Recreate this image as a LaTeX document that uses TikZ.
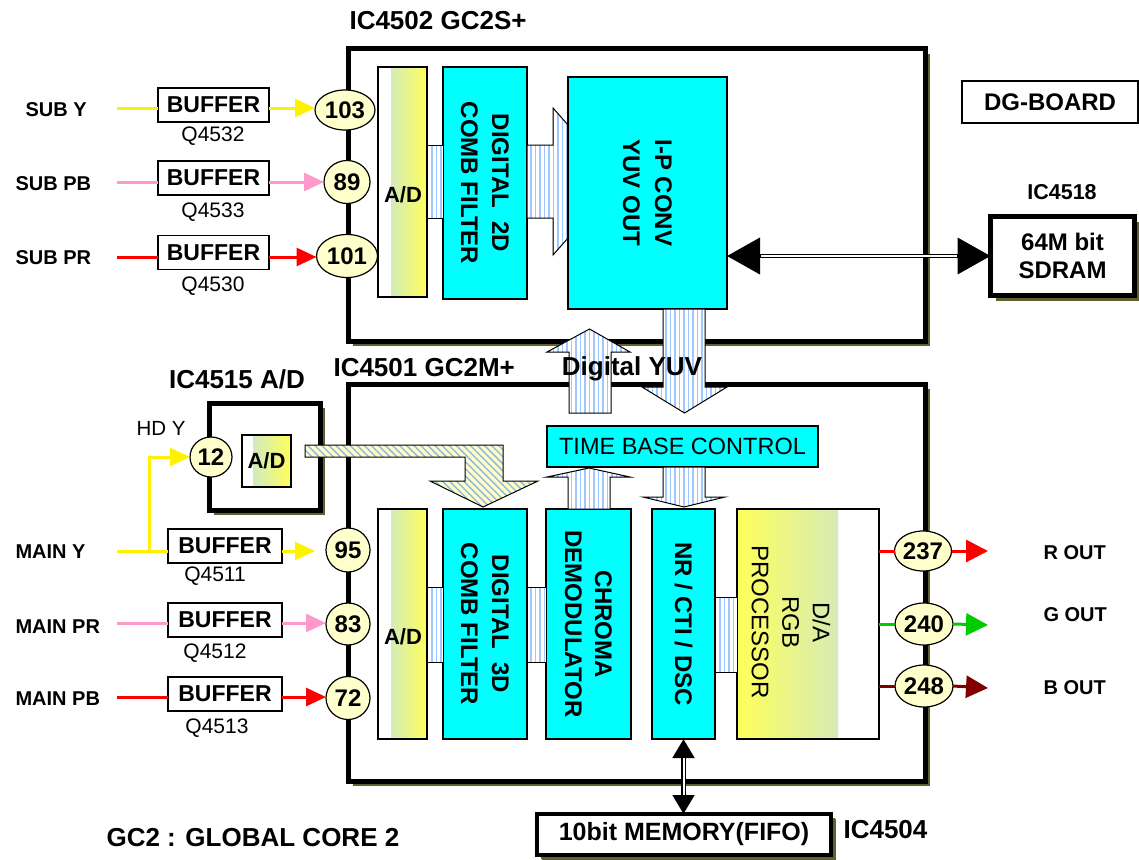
\documentclass[tikz,border=0pt]{standalone}
\usepackage{fontspec}
\setmainfont{Liberation Sans}
\usetikzlibrary{arrows.meta,patterns.meta,shadows,shapes.geometric}
\definecolor{cyanbox}{RGB}{0,255,255}
\definecolor{pinfill}{RGB}{255,255,204}
\definecolor{hatchblue}{RGB}{160,200,255}
\definecolor{shadowol}{RGB}{96,96,48}
\definecolor{adteal}{RGB}{196,228,218}
\definecolor{adyellow}{RGB}{255,255,90}
\definecolor{pinkline}{RGB}{255,153,204}
\definecolor{greenline}{RGB}{0,204,0}
\definecolor{darkredline}{RGB}{128,0,0}
\definecolor{lyellow}{RGB}{255,255,200}
\definecolor{diagblue}{RGB}{150,185,225}
\newcommand\fz[2]{\fontsize{#1}{#2}\selectfont}
\tikzset{
  chip/.style={draw, line width=5pt, fill=white, inner sep=0pt, outer sep=0pt,
    drop shadow={shadow xshift=5pt, shadow yshift=-5pt, fill=shadowol, opacity=1}},
  thinbox/.style={draw, line width=1.3pt, inner sep=0pt, outer sep=0pt},
  cyanblk/.style={thinbox, fill=cyanbox, font=\fz{24}{31}\bfseries, align=center, rotate=-90},
  adblk/.style={thinbox, fill=white,
    path picture={\shade[left color=adteal, right color=adyellow]
      ([xshift=13pt]path picture bounding box.south west) rectangle (path picture bounding box.north east);}},
  buffer/.style={thinbox, fill=white, minimum width=111pt, minimum height=34pt, font=\fz{23}{23}\bfseries},
  pin/.style={ellipse, draw, line width=1.2pt, fill=pinfill, inner sep=0pt, outer sep=0pt, font=\fz{24}{24}\bfseries},
  hatch/.style={draw, line width=1pt, preaction={fill=white},
    pattern={Lines[angle=90,distance=4.5pt,line width=1.5pt]}, pattern color=hatchblue},
  diaghatch/.style={draw, line width=1pt, preaction={fill=lyellow},
    pattern={Lines[angle=-45,distance=5pt,line width=1.5pt]}, pattern color=diagblue},
  arr/.style={-{Triangle[length=20pt,width=18pt]}},
  oarr/.style={-{Triangle[length=22pt,width=22pt]}},
  sig/.style={line width=3pt},
  lbl/.style={font=\fz{20}{20}\bfseries, anchor=west},
  qlbl/.style={font=\fz{21}{21}},
  title/.style={font=\fz{26}{26}\bfseries},
}
\begin{document}
\begin{tikzpicture}[x=1pt,y=-1pt]
\useasboundingbox (0,0) rectangle (1139,859);

% ---- chips and outer boxes
\node[chip, minimum width=577pt, minimum height=292pt] (gc2s) at (636.5,195) {};
\node[chip, minimum width=577pt, minimum height=397pt] (gc2m) at (636.5,582.5) {};
\node[chip, minimum width=111pt, minimum height=107pt] (ic4515) at (264.5,456.5) {};
\node[chip, line width=4.5pt, minimum width=144pt, minimum height=79pt,
      font=\fz{24}{28}\bfseries, align=center] (sdram) at (1062.5,256) {64M bit\\SDRAM};
\node[chip, line width=4pt, minimum width=294pt, minimum height=41pt,
      drop shadow={shadow xshift=4pt, shadow yshift=-4pt, fill=shadowol, opacity=1},
      font=\fz{25}{25}\bfseries] (mem) at (684,834.5) {10bit MEMORY(FIFO)};
\node[thinbox, fill=white, minimum width=176pt, minimum height=42pt, font=\fz{24}{24}\bfseries] (dg) at (1050,102) {DG-BOARD};

% ---- titles
\node[title, anchor=west] (t4502) at (346,21) {IC4502 GC2S+};
\node[title, anchor=west] (t4501) at (330,368) {IC4501 GC2M+};
\node[title] (t4515) at (237,379) {IC4515 A/D};
\node[font=\fz{21.5}{21.5}\bfseries] (t4518) at (1062,192) {IC4518};
\node[title, anchor=west] (t4504) at (840,830) {IC4504};
\node[title, anchor=west] (tgc2) at (103,838) {GC2 : GLOBAL CORE 2};
\node[font=\fz{20.5}{20.5}] (hdy) at (161,428) {HD Y};

% ---- top chip internals
\node[adblk, minimum width=49pt, minimum height=230pt] (adt) at (402.5,182) {};
\node[font=\fz{22}{22}\bfseries] (adttxt) at (403,195) {A/D};
\node[cyanblk, minimum width=232pt, minimum height=84pt] (comb2) at (485,183) {DIGITAL\ \ 2D\\COMB FILTER};
\draw[hatch] (427,145) rectangle (443,218);
\draw[hatch] (527,145) -- (553,145) -- (553,108) -- (618,181.5) -- (553,255) -- (553,218) -- (527,218) -- cycle;
\node[cyanblk, minimum width=232pt, minimum height=159pt, font=\fz{24}{32}\bfseries] (ipconv) at (647.5,193) {I-P CONV\\YUV OUT};

% ---- IC4515 internals
\node[adblk, minimum width=49pt, minimum height=52pt, font=\fz{22}{22}\bfseries,
      path picture={\shade[left color=adteal, right color=adyellow]
      ([xshift=11pt]path picture bounding box.south west) rectangle (path picture bounding box.north east);}] (adhd) at (266.5,461) {A/D};

% ---- bottom chip internals
\node[thinbox, fill=cyanbox, minimum width=271pt, minimum height=41pt, font=\fz{23.5}{23.5}] (tbc) at (682.5,446.5) {TIME BASE CONTROL};
\node[adblk, minimum width=49pt, minimum height=230pt] (adb) at (402.5,624) {};
\node[font=\fz{22}{22}\bfseries] (adbtxt) at (403,637) {A/D};
\node[cyanblk, minimum width=230pt, minimum height=84pt] (comb3) at (485,624) {DIGITAL\ \ 3D\\COMB FILTER};
\node[cyanblk, minimum width=230pt, minimum height=85pt, font=\fz{24}{30}\bfseries] (chroma) at (588.5,624) {CHROMA\\DEMODULATOR};
\node[cyanblk, minimum width=230pt, minimum height=63pt] (nr) at (683.5,624) {NR / CTI / DSC};
\node[thinbox, fill=white, minimum width=142pt, minimum height=230pt,
      path picture={\shade[left color=adyellow, right color=adteal]
      (path picture bounding box.south west) rectangle ([xshift=-41pt]path picture bounding box.north east);}] (da) at (808,624) {};
\node[rotate=-90, font=\fz{24}{30.5}, align=center] (datxt) at (791,622) {D/A\\RGB\\PROCESSOR};
\draw[hatch] (427,587) rectangle (443,662);
\draw[hatch] (527,587) rectangle (546,662);
\draw[hatch] (715,597) rectangle (737,672);

% ---- block arrows around TIME BASE CONTROL
\draw[hatch] (568,509) -- (568,477) -- (547,477) -- (589,468) -- (630,477) -- (610,477) -- (610,509) -- cycle;
\draw[hatch] (663,467) -- (663,497) -- (643,497) -- (684,507) -- (725,497) -- (705,497) -- (705,467) -- cycle;
\draw[hatch] (569,413) -- (569,352) -- (547,352) -- (589.5,329) -- (630,352) -- (611,352) -- (611,413) -- cycle;
\draw[hatch] (663,309) -- (663,387) -- (642,387) -- (684.5,413) -- (727,387) -- (705,387) -- (705,309) -- cycle;
\node[title] (dyuv) at (632,369) {Digital YUV};

% ---- L-shaped arrow from IC4515 A/D
\draw[diaghatch] (305,445) -- (503,445) -- (503,481) -- (538,481) -- (483,507) -- (430,481) -- (465,481) -- (465,457) -- (305,457) -- cycle;

% ---- pins
\node[pin, minimum width=60pt, minimum height=40pt] (p103) at (345,110) {103};
\node[pin, minimum width=46pt, minimum height=43pt] (p89) at (347,182) {89};
\node[pin, minimum width=61pt, minimum height=43pt] (p101) at (347,256) {101};
\node[pin, minimum width=44pt, minimum height=44pt] (p95) at (348,550) {95};
\node[pin, minimum width=44pt, minimum height=42pt] (p83) at (348,624) {83};
\node[pin, minimum width=44pt, minimum height=43pt] (p72) at (348,698) {72};
\node[pin, minimum width=42pt, minimum height=40pt] (p12) at (211,457) {12};
\node[pin, minimum width=57pt, minimum height=40pt] (p237) at (923,551) {237};
\node[pin, minimum width=58pt, minimum height=42pt] (p240) at (924,624) {240};
\node[pin, minimum width=58pt, minimum height=42pt] (p248) at (924,686) {248};

% ---- input labels and buffers
\node[lbl] (suby) at (22,110) {SUB Y};
\node[lbl] (subpb) at (12,184) {SUB PB};
\node[lbl] (subpr) at (12,258) {SUB PR};
\node[lbl] (mainy) at (12,552) {MAIN Y};
\node[lbl] (mainpr) at (12,627) {MAIN PR};
\node[lbl] (mainpb) at (12,699) {MAIN PB};
\node[buffer] (bs1) at (213.5,105) {BUFFER};
\node[buffer] (bs2) at (213.5,178) {BUFFER};
\node[buffer] (bs3) at (213.5,252.5) {BUFFER};
\node[buffer, minimum width=114pt] (bm1) at (225,546) {BUFFER};
\node[buffer, minimum width=114pt] (bm2) at (225,620) {BUFFER};
\node[buffer, minimum width=114pt] (bm3) at (225,694) {BUFFER};
\node[qlbl] (q4532) at (213,136) {Q4532};
\node[qlbl] (q4533) at (213,212) {Q4533};
\node[qlbl] (q4530) at (213,286) {Q4530};
\node[qlbl] (q4511) at (215,576) {Q4511};
\node[qlbl] (q4512) at (215,653) {Q4512};
\node[qlbl] (q4513) at (217,728) {Q4513};

% ---- input signal lines
\coordinate (s1) at (117,108);
\coordinate (s2) at (117,182);
\coordinate (s3) at (117,257);
\coordinate (m1) at (117,551);
\coordinate (j1) at (149,551);
\coordinate (m2) at (117,623);
\coordinate (m3) at (117,697);
\draw[sig, yellow] (s1) -- (s1 -| bs1.west);
\draw[sig, yellow, arr] (s1 -| bs1.east) -- (s1 -| p103.west);
\draw[sig, pinkline] (s2) -- (s2 -| bs2.west);
\draw[sig, pinkline, arr] (s2 -| bs2.east) -- (s2 -| p89.west);
\draw[sig, red] (s3) -- (s3 -| bs3.west);
\draw[sig, red, arr] (s3 -| bs3.east) -- (s3 -| p101.west);
\draw[sig, yellow] (m1) -- (m1 -| bm1.west);
\draw[sig, yellow, arr] (j1) |- (p12.west);
\draw[sig, yellow, arr, shorten >=11pt] (m1 -| bm1.east) -- (m1 -| p95.west);
\draw[sig, pinkline] (m2) -- (m2 -| bm2.west);
\draw[sig, pinkline, arr] (m2 -| bm2.east) -- (m2 -| p83.west);
\draw[sig, red] (m3) -- (m3 -| bm3.west);
\draw[sig, red, arr] (m3 -| bm3.east) -- (m3 -| p72.west);

% ---- outputs
\coordinate (ro) at (988,551);
\coordinate (go) at (988,625);
\coordinate (bo) at (988,688);
\draw[sig, red] (p237.west -| da.east) -- (p237.west);
\draw[sig, red, oarr] (p237.east) -- (ro);
\draw[sig, greenline] (p240.west -| da.east) -- (p240.west);
\draw[sig, greenline, oarr] (p240.east) -- (go);
\draw[sig, darkredline] (p248.west -| da.east) -- (p248.west);
\draw[sig, darkredline, oarr] (p248.east) -- (bo);
\node[lbl] (rout) at (1040,553) {R OUT};
\node[lbl] (gout) at (1040,615) {G OUT};
\node[lbl] (bout) at (1040,688) {B OUT};

% ---- memory buses
\draw[line width=4pt, {Triangle[length=33pt,width=36pt]}-{Triangle[length=33pt,width=36pt]}] (sdram.west -| ipconv.north) -- (sdram.west);
\draw[white, line width=1.3pt, shorten <=34pt, shorten >=34pt] (sdram.west -| ipconv.north) -- (sdram.west);
\draw[line width=5pt, {Triangle[length=19pt,width=21pt]}-{Triangle[length=19pt,width=21pt]}] (nr.east) -- (nr.east |- mem.north);
\draw[white, line width=2pt, shorten <=19pt, shorten >=19pt] (nr.east) -- (nr.east |- mem.north);
\end{tikzpicture}
\end{document}
